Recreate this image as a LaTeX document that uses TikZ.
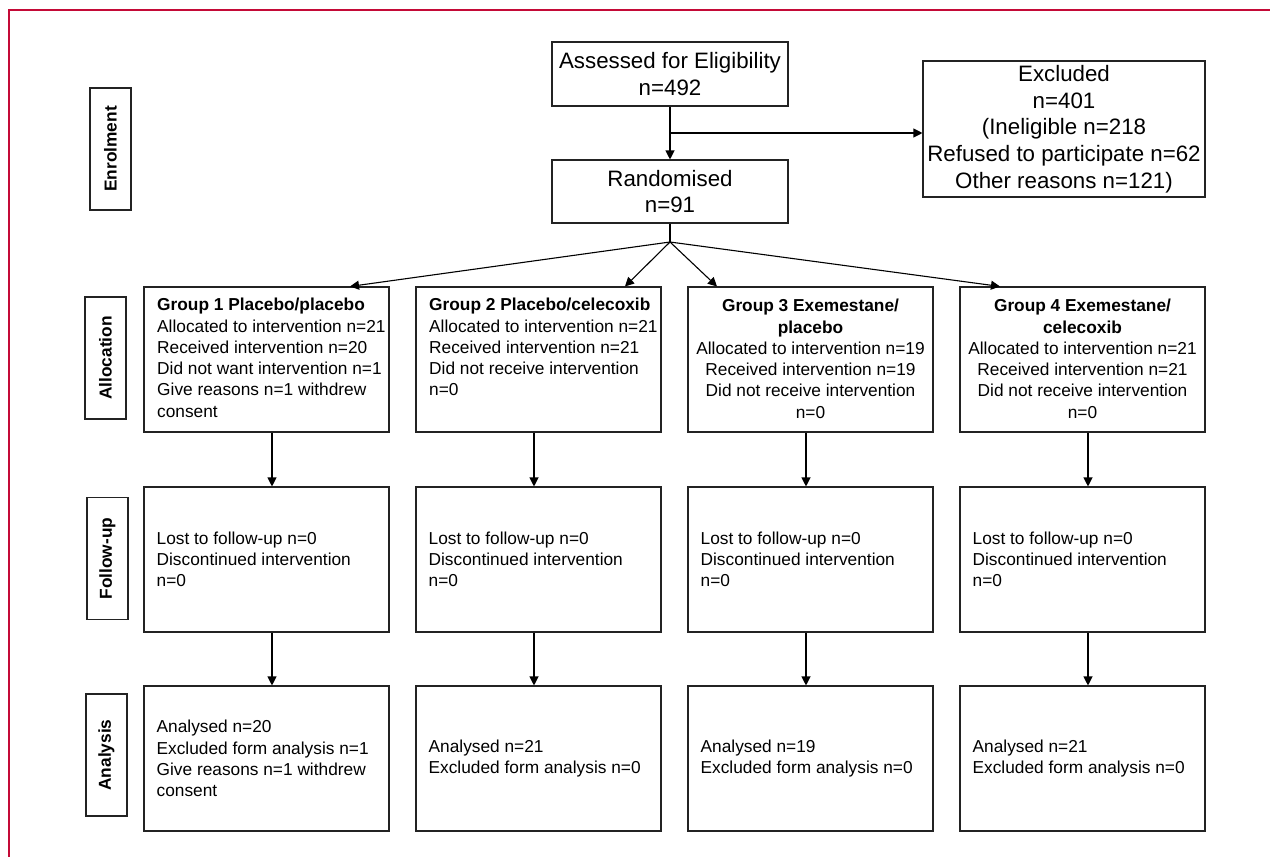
\documentclass[tikz,border=0pt]{standalone}
\usepackage{fontspec}
\setmainfont{Liberation Sans}
\usetikzlibrary{arrows.meta}
\definecolor{framered}{RGB}{196,10,55}
\definecolor{boxline}{RGB}{35,35,35}
\begin{document}
\begin{tikzpicture}[x=1pt,y=-1pt,
  box/.style={draw=boxline,line width=1.1pt,minimum width=245pt,minimum height=145pt,inner sep=0pt},
  topbox/.style={draw=boxline,line width=1.1pt,inner sep=0pt,align=center,font=\fontsize{22.3}{26.7}\selectfont},
  body/.style={inner sep=0pt,font=\fontsize{17.3}{21.3}\selectfont},
  lab/.style={draw=boxline,line width=1.1pt,rotate=90,minimum width=122pt,minimum height=41pt,inner sep=0pt,font=\bfseries\fontsize{17.3}{21.3}\selectfont},
  arr/.style={draw=black,line width=1.1pt,-{Triangle[length=9pt,width=9pt]}},
  ln/.style={draw=black,line width=1.1pt}]
\useasboundingbox (0,0) rectangle (1270,857);
\draw[framered,line width=1.3pt] (1270,10) -- (9,10) -- (9,857);

% stage labels
\node[lab] (lenr) at (110.5,149) {Enrolment};
\node[lab] (lall) at (105.5,358) {Allocation};
\node[lab] (lfol) at (107.5,558.5) {Follow-up};
\node[lab] (lana) at (106.5,755) {Analysis};

% top boxes
\node[topbox,minimum width=236pt,minimum height=64pt] (assess) at (670,74) {Assessed for Eligibility\\n=492};
\node[topbox,minimum width=236pt,minimum height=63pt] (rand) at (670,191.5) {Randomised\\n=91};
\node[topbox,minimum width=282pt,minimum height=136pt] (excl) at (1064,129) {Excluded\\n=401\\(Ineligible n=218\\Refused to participate n=62\\Other reasons n=121)};

% allocation boxes
\node[box] (a1) at (266.5,359.5) {};
\node[box] (a2) at (538.5,359.5) {};
\node[box] (a3) at (810.5,359.5) {};
\node[box] (a4) at (1082.5,359.5) {};
\node[body,align=left,anchor=north west] (ta1) at (157,298) {\textbf{Group 1 Placebo/placebo}\\Allocated to intervention n=21\\Received intervention n=20\\Did not want intervention n=1\\Give reasons n=1 withdrew\\consent};
\node[body,align=left,anchor=north west] (ta2) at (429,298) {\textbf{Group 2 Placebo/celecoxib}\\Allocated to intervention n=21\\Received intervention n=21\\Did not receive intervention\\n=0};
\node[body,align=center,anchor=north] (ta3) at (810.5,299) {\textbf{Group 3 Exemestane/}\\\textbf{placebo}\\Allocated to intervention n=19\\Received intervention n=19\\Did not receive intervention\\n=0};
\node[body,align=center,anchor=north] (ta4) at (1082.5,299) {\textbf{Group 4 Exemestane/}\\\textbf{celecoxib}\\Allocated to intervention n=21\\Received intervention n=21\\Did not receive intervention\\n=0};

% follow-up boxes
\node[box] (f1) at (266.5,559.5) {};
\node[box] (f2) at (538.5,559.5) {};
\node[box] (f3) at (810.5,559.5) {};
\node[box] (f4) at (1082.5,559.5) {};
\foreach \i in {1,2,3,4}{
  \node[body,align=left,anchor=west] (tf\i) at ([xshift=13pt]f\i.west) {Lost to follow-up n=0\\Discontinued intervention\\n=0};
}

% analysis boxes
\node[box] (n1) at (266.5,758.5) {};
\node[box] (n2) at (538.5,758.5) {};
\node[box] (n3) at (810.5,758.5) {};
\node[box] (n4) at (1082.5,758.5) {};
\node[body,align=left,anchor=west] (tn1) at ([xshift=13pt]n1.west) {Analysed n=20\\Excluded form analysis n=1\\Give reasons n=1 withdrew\\consent};
\node[body,align=left,anchor=west] (tn2) at ([xshift=13pt]n2.west) {Analysed n=21\\Excluded form analysis n=0};
\node[body,align=left,anchor=west] (tn3) at ([xshift=13pt]n3.west) {Analysed n=19\\Excluded form analysis n=0};
\node[body,align=left,anchor=west] (tn4) at ([xshift=13pt]n4.west) {Analysed n=21\\Excluded form analysis n=0};

% connectors
\draw[arr] (assess) -- (rand);
\coordinate (br) at (670,133);
\draw[arr] (br) -- (br -| excl.west);
\coordinate (fan) at (670,242);
\draw[ln] (rand) -- (fan);
\draw[arr] (fan) -- ([xshift=83.5pt]a1.north);
\draw[arr] (fan) -- ([xshift=86.5pt]a2.north);
\draw[arr] (fan) -- ([xshift=-93.5pt]a3.north);
\draw[arr] (fan) -- ([xshift=-82.5pt]a4.north);

\draw[arr] ([xshift=5.5pt]a1.south) -- ([xshift=5.5pt]f1.north);
\draw[arr] ([xshift=-4.5pt]a2.south) -- ([xshift=-4.5pt]f2.north);
\draw[arr] ([xshift=-4.5pt]a3.south) -- ([xshift=-4.5pt]f3.north);
\draw[arr] ([xshift=5.5pt]a4.south) -- ([xshift=5.5pt]f4.north);

\draw[arr] ([xshift=5.5pt]f1.south) -- ([xshift=5.5pt]n1.north);
\draw[arr] ([xshift=-4.5pt]f2.south) -- ([xshift=-4.5pt]n2.north);
\draw[arr] ([xshift=-4.5pt]f3.south) -- ([xshift=-4.5pt]n3.north);
\draw[arr] ([xshift=5.5pt]f4.south) -- ([xshift=5.5pt]n4.north);
\end{tikzpicture}
\end{document}
